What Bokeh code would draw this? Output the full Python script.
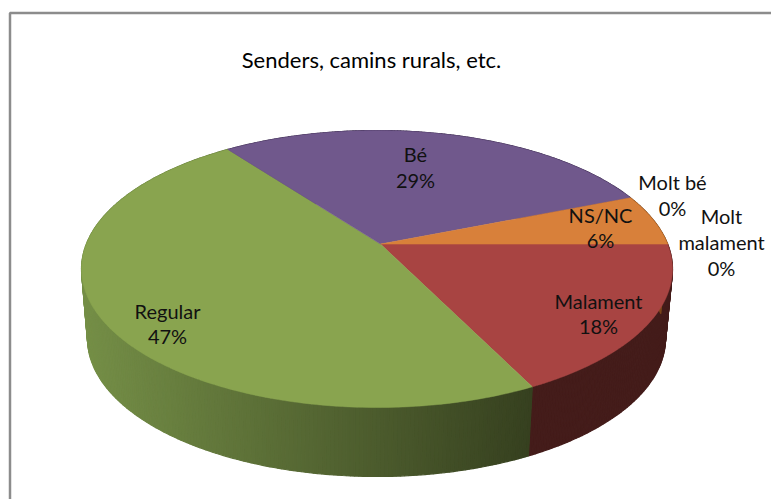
import numpy as np
from bokeh.plotting import figure
from bokeh.embed import file_html
from bokeh.resources import INLINE
from bokeh.core.properties import value

title = "Senders, camins rurals, etc."
# clockwise from 3 o'clock
categories = ["Malament", "Regular", "Bé", "NS/NC", "Molt bé", "Molt malament"]
shares = [17.6, 47.4, 29.0, 6.0, 0.0, 0.0]

top_colors = ["#A84442", "#89A44F", "#70588C", "#D8803A", "#8064A2", "#4BACC6"]
side_left = ["#441C1A", "#758F47", "#3A2A4C", "#7A4518", "#3A2A4C", "#1F4A55"]
side_right = ["#441C1A", "#36401F", "#3A2A4C", "#7A4518", "#3A2A4C", "#1F4A55"]

# pie geometry, page pixels
TOP = dict(cx=376.5, cy=268.5, rx=295.5, ry=138.5)
BOT = dict(cx=376.0, cy=338.0, rx=289.0, ry=138.0)
TILT = -0.18  # moves the circle's centre towards the far side


def project(theta, e):
    u, v = np.cos(theta), np.sin(theta)
    d = 1 + TILT * v
    return (e["cx"] + e["rx"] * u * np.sqrt(1 - TILT ** 2) / d,
            e["cy"] + e["ry"] * (v + TILT) / d)


def hexmix(a, b, t):
    ca = [int(a[i:i + 2], 16) for i in (1, 3, 5)]
    cb = [int(b[i:i + 2], 16) for i in (1, 3, 5)]
    return "#%02x%02x%02x" % tuple(round(x + (y - x) * t) for x, y in zip(ca, cb))


p = figure(width=771, height=499, x_range=(0, 771), y_range=(499, 0),
           toolbar_location=None, output_backend="svg", min_border=0,
           background_fill_color="white", border_fill_color="white")
p.axis.visible = False
p.grid.visible = False
p.outline_line_color = None

# chart frame (runs off the right and bottom of the picture)
p.line([9.5, 9.5, 771], [499, 12.5, 12.5], line_color="#8C8C8C", line_width=2.5)

# slice boundaries
fracs = np.cumsum([0.0] + shares) / sum(shares) * 2 * np.pi
ax, ay = TOP["cx"] + 3.5, TOP["cy"] + TOP["ry"] * TILT

# side wall strips
for i, _ in enumerate(categories):
    a0, a1 = fracs[i], fracs[i + 1]
    if a1 <= a0:
        continue
    n = max(2, int((a1 - a0) / 0.012))
    edges = np.linspace(a0, a1, n + 1)
    xs, ys, cols = [], [], []
    for s, e in zip(edges[:-1], edges[1:]):
        tx0, ty0 = project(s, TOP)
        tx1, ty1 = project(e, TOP)
        bx0, by0 = project(s, BOT)
        bx1, by1 = project(e, BOT)
        xs.append([tx0, tx1, bx1, bx0])
        ys.append([ty0, ty1, by1, by0])
        t = np.clip((bx0 - 85.0) / (530.0 - 85.0), 0, 1)
        cols.append(hexmix(side_left[i], side_right[i], float(t)))
    p.patches(xs, ys, fill_color=cols, line_color=cols, line_width=1.2)

# top faces
for i, _ in enumerate(categories):
    a0, a1 = fracs[i], fracs[i + 1]
    if a1 <= a0:
        continue
    th = np.linspace(a0, a1, 160)
    rx, ry = project(th, TOP)
    p.patch(np.r_[ax, rx], np.r_[ay, ry], fill_color=top_colors[i],
            line_color=top_colors[i], line_width=0.5)

# texts
FONT = value("Lato")
labels = {c: [c, f"{round(s)}%"] for c, s in zip(categories, shares)}
labels["Molt malament"] = ["Molt", "malament", "0%"]
label_pos = {
    "Malament": (598, [300, 325]),
    "Regular": (167, [310, 335]),
    "Bé": (415, [153, 179]),
    "NS/NC": (600, [214, 239]),
    "Molt bé": (672, [181, 207]),
    "Molt malament": (721, [215, 241, 267]),
}
for c in categories:
    x, ys = label_pos[c]
    for line, y in zip(labels[c], ys):
        p.text([x], [y], text=[line], text_font=FONT, text_font_size="20px",
               text_align="center", text_baseline="middle", text_color="#111111")

p.text([371], [59], text=[title], text_font=FONT, text_font_size="22px",
       text_align="center", text_baseline="middle", text_color="#000000")

open("out.html", "w").write(file_html(p, INLINE))
